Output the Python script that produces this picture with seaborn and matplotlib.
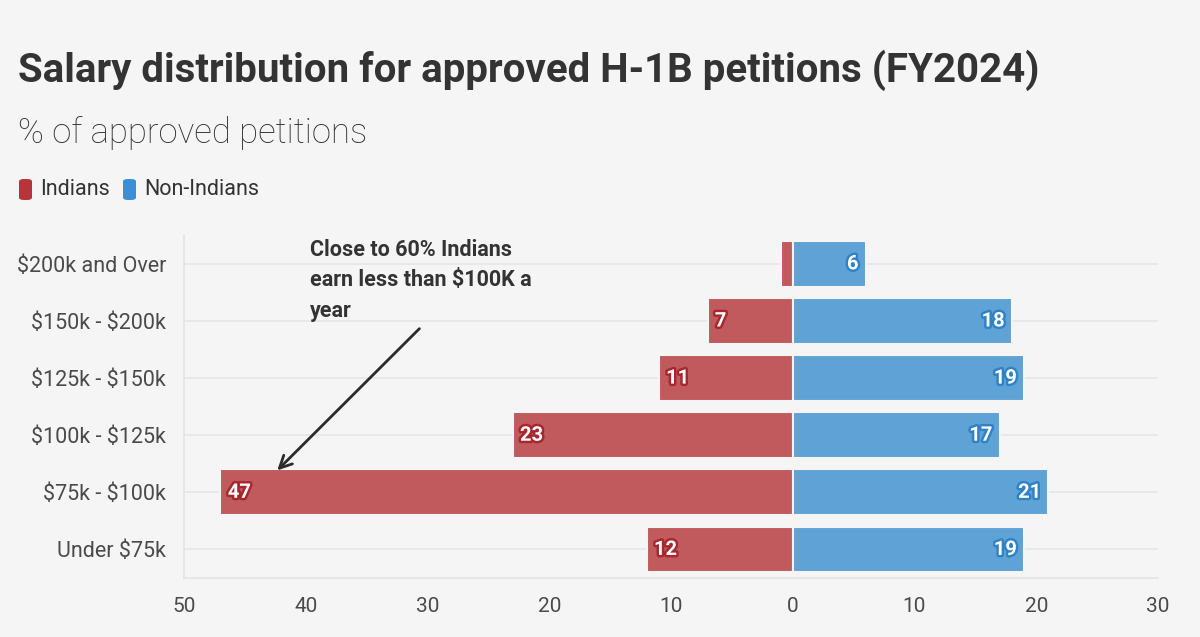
import matplotlib
matplotlib.use("Agg")
import matplotlib.pyplot as plt
import matplotlib.patheffects as pe
from matplotlib.patches import FancyBboxPatch
import seaborn as sns
import pandas as pd
import numpy as np

categories = ["$200k and Over", "$150k - $200k", "$125k - $150k",
              "$100k - $125k", "$75k - $100k", "Under $75k"]
indians = [1, 7, 11, 23, 47, 12]
non_indians = [6, 18, 19, 17, 21, 19]
xticks = [-50, -40, -30, -20, -10, 0, 10, 20, 30]
xtick_labels = ["50", "40", "30", "20", "10", "0", "10", "20", "30"]

BG = "#f5f5f5"
RED = "#c05a5d"
BLUE = "#5fa3d6"
RED_DARK = "#a8262e"
BLUE_DARK = "#2f82c6"

sns.set_theme(style="white")
plt.rcParams["font.family"] = ["Roboto", "DejaVu Sans"]
plt.rcParams["text.parse_math"] = False

df_ind = pd.DataFrame({"cat": categories, "val": [-v for v in indians]})
df_non = pd.DataFrame({"cat": categories, "val": non_indians})

fig = plt.figure(figsize=(12, 6.37), dpi=100, facecolor=BG)
ax = fig.add_axes([0.1533, 0.0926, 0.8117, 0.538])
ax.set_facecolor(BG)

# gridlines
for i in range(len(categories)):
    ax.axhline(i, color="#e6e6e6", lw=1.2, zorder=0)

sns.barplot(data=df_ind, y="cat", x="val", color=RED, orient="h", width=0.8,
            edgecolor=BG, linewidth=1.5, saturation=1, ax=ax, zorder=2)
sns.barplot(data=df_non, y="cat", x="val", color=BLUE, orient="h", width=0.8,
            edgecolor=BG, linewidth=1.5, saturation=1, ax=ax, zorder=2)

ax.set_xlim(-50, 30)
ax.set_ylim(5.5, -0.5)
ax.set_xticks(xticks)
ax.set_xticklabels(xtick_labels)
ax.set_xlabel("")
ax.set_ylabel("")
for s in ["top", "right"]:
    ax.spines[s].set_visible(False)
for s in ["left", "bottom"]:
    ax.spines[s].set_color("#e3e3e3")
    ax.spines[s].set_linewidth(1.2)
ax.tick_params(axis="x", direction="in", length=10, color="#e3e3e3",
               labelsize=15, labelcolor="#4a4a4a", pad=14)
ax.tick_params(axis="y", direction="out", length=7, color="#e3e3e3",
               labelsize=15.5, labelcolor="#4a4a4a", pad=6)

# value labels
for i, v in enumerate(indians):
    if v >= 5:
        ax.text(-v + 0.6, i, str(v), ha="left", va="center", color="white",
                fontsize=14.5, fontweight="bold", zorder=5,
                path_effects=[pe.withStroke(linewidth=3.5, foreground=RED_DARK)])
for i, v in enumerate(non_indians):
    ax.text(v - 0.6, i, str(v), ha="right", va="center", color="white",
            fontsize=14.5, fontweight="bold", zorder=5,
            path_effects=[pe.withStroke(linewidth=3.5, foreground=BLUE_DARK)])

# annotation
ax.annotate("", xy=(-42.5, 3.65), xytext=(-30.5, 1.1),
            arrowprops=dict(arrowstyle="->", color="#2b2b2b", lw=2,
                            mutation_scale=22), zorder=6)
fig.text(310 / 1200, 1 - 239 / 637, "Close to 60% Indians\nearn less than $100K a\nyear",
         ha="left", va="top", fontsize=15.5, fontweight="bold", color="#333333",
         linespacing=1.5)

# titles
fig.text(18 / 1200, 1 - 70 / 637, "Salary distribution for approved H-1B petitions (FY2024)",
         ha="left", va="center", fontsize=29, fontweight="bold", color="#333333")
fig.text(18 / 1200, 1 - 133 / 637, "% of approved petitions",
         ha="left", va="center", fontsize=25, fontweight="light", color="#333333")

# legend
def swatch(x, color):
    p = FancyBboxPatch((x / 1200, 1 - 200 / 637), 13 / 1200, 21 / 637,
                       boxstyle="round,pad=0,rounding_size=0.004",
                       transform=fig.transFigure, facecolor=color, edgecolor="none")
    fig.patches.append(p)

swatch(19, "#b8343c")
fig.text(40 / 1200, 1 - 189 / 637, "Indians", ha="left", va="center",
         fontsize=15.5, color="#333333")
swatch(123, "#3a8fd6")
fig.text(144 / 1200, 1 - 189 / 637, "Non-Indians", ha="left", va="center",
         fontsize=15.5, color="#333333")

fig.savefig("out.png", dpi=100, facecolor=BG)
